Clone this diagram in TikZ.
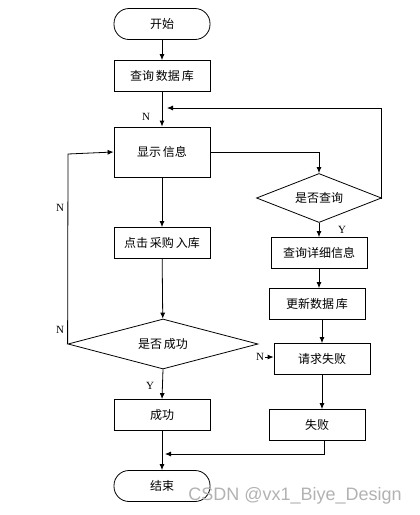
\documentclass[tikz,border=0pt]{standalone}
\usepackage{fontspec}
\setmainfont{Liberation Serif}
\newfontfamily\cjkf{Noto Sans CJK SC}
\newfontfamily\wmf{Liberation Sans}
\usetikzlibrary{arrows.meta,shapes.geometric}
\begin{document}
\begin{tikzpicture}[x=1pt,y=-1pt,
  line width=0.8pt,
  every node/.style={inner sep=0pt},
  boxst/.style={draw, rectangle, minimum width=96pt, minimum height=31pt, font=\cjkf\fontsize{12}{14}\selectfont},
  termst/.style={boxst, rounded corners=15pt},
  decst/.style={draw, diamond, aspect=2.5, font=\cjkf\fontsize{12}{14}\selectfont},
  lab/.style={font=\fontsize{11}{13}\selectfont},
  arr/.style={-{Latex[length=6pt,width=5pt]}}
]
\useasboundingbox (0,0) rectangle (420,515);
\node[termst] (start) at (162,24) {开始};
\node[boxst] (q1) at (162,76) {查询\hspace{2pt}数据\hspace{2pt}库};
\node[boxst, minimum height=50pt] (show) at (162,152) {显示\hspace{2pt}信息};
\node[decst, minimum width=125pt, minimum height=49pt] (d1) at (319,198) {是否查询};
\node[boxst] (buy) at (162,243) {点击\hspace{2pt}采购\hspace{2pt}入库};
\node[boxst] (detail) at (319,253) {查询详细信息};
\node[boxst] (update) at (317,304) {更新数据\hspace{2pt}库};
\node[decst, minimum width=190pt, minimum height=50pt] (d2) at (163,344) {是否\hspace{2pt}成功};
\node[boxst] (req) at (322,359) {请求失败};
\node[boxst] (ok) at (162,415) {成功};
\node[boxst] (fail) at (317,425) {失败};
\node[termst] (end) at (162,486) {结束};

\coordinate (fb) at (167,108);
\coordinate (mg) at (165,454);
\coordinate (ns) at (265,357);

\draw[arr] (start) -- (q1);
\draw[arr] (q1) -- (show);
\draw[arr] (show.east) -| (d1.north);
\draw[arr] (d1.east) -| (381,108) -- (fb);
\draw[arr] (d1.south) -- (detail.north);
\draw[arr] (detail.south) -- (detail.south |- update.north);
\draw[arr] (req.north |- update.south) -- (req.north);
\draw[arr] (req.south) -- (req.south |- fail.north);
\draw[arr] ([xshift=7pt]fail.south) |- (mg);
\draw[arr] (show) -- (buy);
\draw[arr] (buy) -- (d2);
\draw[arr] (d2.west) -- (68,154) -- (show.west);
\draw[arr] (d2.south) -- (ok.north);
\draw[arr] (ns) -- (req.west |- ns);
\draw[arr] (ok) -- (end);

\node[lab] (n1) at (146,117) {N};
\node[lab] (y1) at (342,230) {Y};
\node[lab] (n2) at (60,208) {N};
\node[lab] (n3) at (60,330) {N};
\node[lab] (n4) at (260,357) {N};
\node[lab] (y2) at (150,386) {Y};
\node[font=\wmf\fontsize{18}{20}\selectfont, text=black!30, anchor=west] (wm) at (188,496) {CSDN @vx1\_Biye\_Design};
\end{tikzpicture}
\end{document}
